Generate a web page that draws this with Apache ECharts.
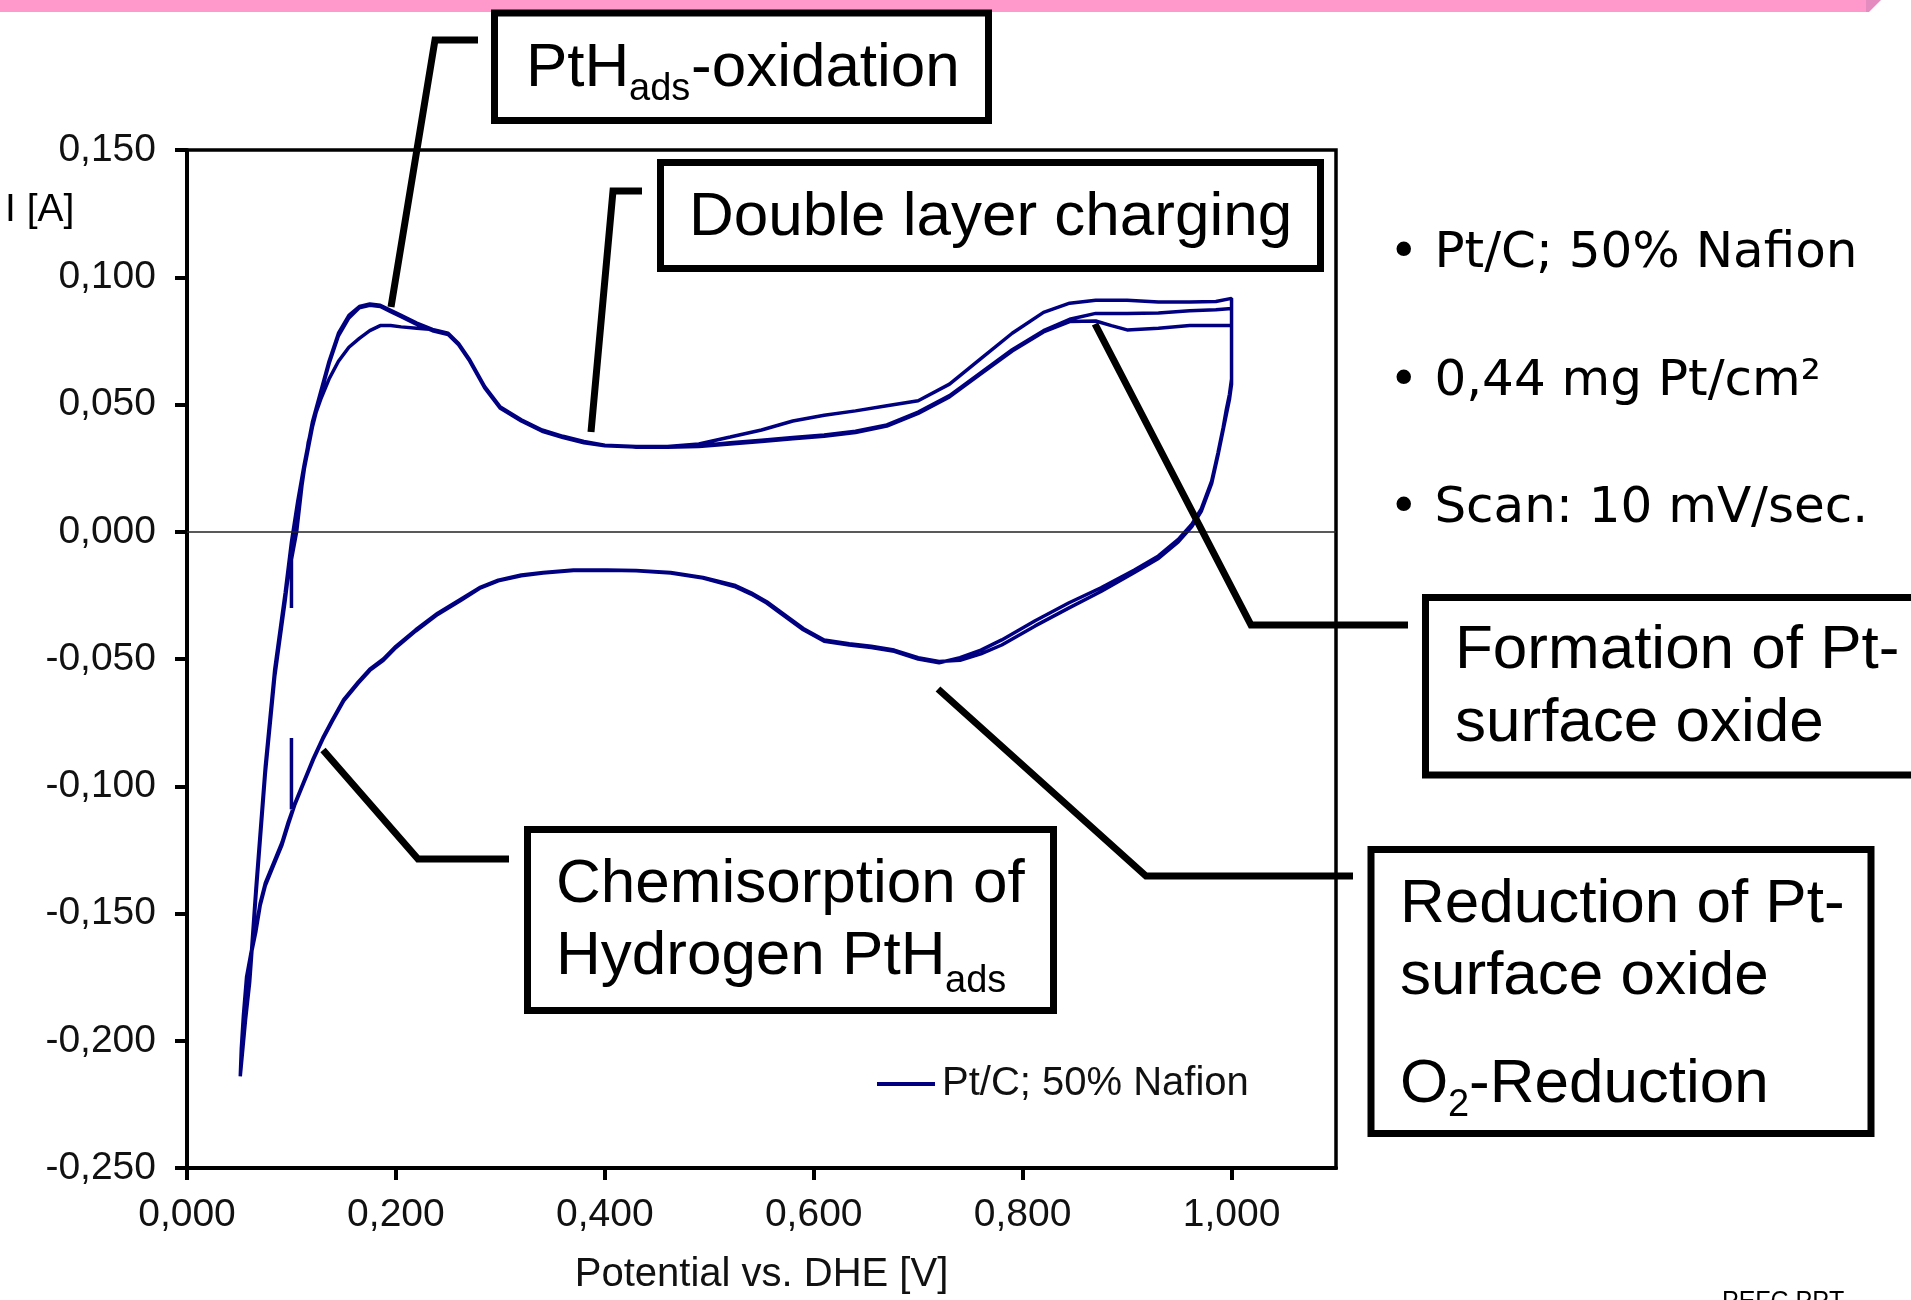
<!DOCTYPE html>
<html>
<head>
<meta charset="utf-8">
<title>Cyclic voltammogram Pt/C</title>
<script src="https://cdn.jsdelivr.net/npm/echarts@6/dist/echarts.min.js"></script>
<style>
  html, body { margin: 0; padding: 0; background: #fff; }
  #cv { width: 1911px; height: 1300px; }
</style>
</head>
<body>
<div id="cv"></div>
<script>
// tick values
var xTicks = [0, 0.2, 0.4, 0.6, 0.8, 1.0];

// first anodic sweep (starts at 0,1 V)
var anodicInnerV = [0.100, 0.100, 0.105, 0.110, 0.116, 0.122, 0.128, 0.136, 0.145, 0.155,
  0.165, 0.175, 0.185, 0.195, 0.205, 0.220, 0.235, 0.250, 0.260, 0.270,
  0.285, 0.300, 0.320, 0.340, 0.360, 0.380, 0.400, 0.430, 0.460, 0.490,
  0.520, 0.550, 0.580, 0.610, 0.640, 0.670, 0.700, 0.730, 0.760, 0.790,
  0.820, 0.845, 0.870, 0.885, 0.900, 0.930, 0.960, 0.985, 1.000];
var anodicInner = [-0.030, -0.011, 0.000, 0.018, 0.035, 0.045, 0.052, 0.060, 0.067, 0.0725,
  0.076, 0.079, 0.081, 0.081, 0.0805, 0.080, 0.0795, 0.0775, 0.0735, 0.0675,
  0.0565, 0.0485, 0.0435, 0.0395, 0.037, 0.035, 0.034, 0.0332, 0.0332, 0.0335,
  0.0345, 0.0355, 0.0365, 0.0375, 0.039, 0.0415, 0.0465, 0.053, 0.062, 0.071,
  0.0785, 0.0826, 0.0828, 0.081, 0.0793, 0.080, 0.081, 0.081, 0.081];

// later anodic sweeps (from 0,05 V)
var anodicV = [0.051, 0.056, 0.060, 0.066, 0.075, 0.084, 0.094, 0.100, 0.106, 0.112,
  0.120, 0.128, 0.136, 0.145, 0.155, 0.165, 0.175, 0.185, 0.195, 0.205,
  0.220, 0.235, 0.250, 0.260, 0.270, 0.285, 0.300, 0.320, 0.340, 0.360,
  0.380, 0.400, 0.430, 0.460, 0.490, 0.520, 0.550, 0.580, 0.610, 0.640,
  0.670, 0.700, 0.730, 0.760, 0.790, 0.820, 0.845, 0.870, 0.900, 0.930,
  0.960, 0.985, 1.000];
var anodicOuter = [-0.214, -0.190, -0.175, -0.140, -0.092, -0.054, -0.024, -0.004, 0.012, 0.026,
  0.043, 0.055, 0.067, 0.078, 0.085, 0.0885, 0.0895, 0.089, 0.087, 0.085,
  0.082, 0.0795, 0.078, 0.074, 0.068, 0.057, 0.049, 0.044, 0.040, 0.0375,
  0.0355, 0.034, 0.0335, 0.0335, 0.0345, 0.0372, 0.040, 0.0435, 0.0458, 0.0475,
  0.0495, 0.0515, 0.058, 0.068, 0.078, 0.0862, 0.0898, 0.091, 0.091, 0.0903,
  0.0903, 0.0905, 0.0917];
var anodicMiddle = [-0.214, -0.192, -0.177, -0.143, -0.095, -0.057, -0.027, -0.007, 0.010, 0.024,
  0.041, 0.054, 0.066, 0.077, 0.084, 0.088, 0.089, 0.0885, 0.0865, 0.0845,
  0.0815, 0.079, 0.0775, 0.0735, 0.0675, 0.0565, 0.0485, 0.0435, 0.0395, 0.037,
  0.035, 0.0338, 0.0333, 0.0333, 0.0338, 0.035, 0.036, 0.037, 0.038, 0.0395,
  0.042, 0.047, 0.0535, 0.0625, 0.0715, 0.079, 0.0835, 0.0858, 0.0858, 0.086,
  0.0868, 0.0872, 0.0877];

// cathodic sweeps (1,0 V -> 0,05 V)
var cathodicV = [1.000, 0.998, 0.995, 0.992, 0.987, 0.981, 0.971, 0.962, 0.949, 0.930,
  0.907, 0.875, 0.844, 0.812, 0.780, 0.760, 0.740, 0.720, 0.700, 0.677,
  0.655, 0.634, 0.610, 0.590, 0.570, 0.555, 0.540, 0.524, 0.494, 0.463,
  0.430, 0.402, 0.370, 0.341, 0.320, 0.298, 0.280, 0.262, 0.240, 0.219,
  0.200, 0.188, 0.175, 0.164, 0.150, 0.139, 0.130, 0.121, 0.112, 0.103,
  0.097, 0.091, 0.083, 0.075, 0.070, 0.066, 0.061, 0.057, 0.054, 0.052,
  0.051];
var cathodicA = [0.058, 0.052, 0.046, 0.040, 0.030, 0.019, 0.008, 0.002, -0.004, -0.0105,
  -0.016, -0.0235, -0.030, -0.037, -0.0445, -0.048, -0.0505, -0.051, -0.0495, -0.0465,
  -0.045, -0.044, -0.0425, -0.038, -0.032, -0.0275, -0.024, -0.021, -0.018, -0.016,
  -0.0152, -0.015, -0.015, -0.016, -0.017, -0.019, -0.022, -0.0265, -0.032, -0.0385,
  -0.045, -0.050, -0.054, -0.059, -0.066, -0.074, -0.081, -0.089, -0.098, -0.107,
  -0.114, -0.122, -0.130, -0.138, -0.146, -0.156, -0.166, -0.175, -0.190, -0.203,
  -0.214];
var cathodicB = [0.060, 0.054, 0.048, 0.041, 0.031, 0.020, 0.009, 0.003, -0.003, -0.0095,
  -0.015, -0.022, -0.028, -0.035, -0.0425, -0.0465, -0.0495, -0.0515, -0.050, -0.047,
  -0.0455, -0.0445, -0.043, -0.0385, -0.0325, -0.028, -0.0245, -0.0215, -0.0182, -0.0162,
  -0.0153, -0.0151, -0.0152, -0.0162, -0.0173, -0.0193, -0.0223, -0.027, -0.0325, -0.039,
  -0.0455, -0.0505, -0.0545, -0.0595, -0.0665, -0.0745, -0.0815, -0.0895, -0.0985, -0.1075,
  -0.115, -0.123, -0.131, -0.139, -0.147, -0.157, -0.167, -0.177, -0.191, -0.204,
  -0.214];

// end of the record at 0,1 V
var endV = [0.100, 0.100];
var endI = [-0.109, -0.081];

function zip(v, c, upTo) {
  var out = [];
  var n = upTo == null ? v.length : upTo;
  for (var i = 0; i < n; i++) out.push([v[i], c[i]]);
  return out;
}

var cvPoints = [].concat(
  zip(anodicInnerV, anodicInner),
  zip(cathodicV, cathodicA),
  zip(anodicV, anodicOuter),
  zip(cathodicV, cathodicB),
  zip(anodicV, anodicMiddle),
  zip(cathodicV, cathodicA, 50),
  zip(endV, endI)
);

var FONT = '"Liberation Sans", Arial, sans-serif';
var BULLET_FONT = '"DejaVu Sans", Verdana, sans-serif';

function fmt(v) {
  return v.toFixed(3).replace('.', ',');
}

function txt(x, y, s, size, family) {
  return {
    type: 'text', x: x, y: y, z: 110,
    style: {
      text: s, fontSize: size, fontFamily: family || FONT,
      fill: '#000', align: 'left', verticalAlign: 'middle'
    }
  };
}

function box(x, y, w, h) {
  return {
    type: 'rect', z: 100,
    shape: { x: x, y: y, width: w, height: h },
    style: { fill: '#fff', stroke: '#000', lineWidth: 7 }
  };
}

function leader(points) {
  return {
    type: 'polyline', z: 105,
    shape: { points: points },
    style: { stroke: '#000', lineWidth: 7, fill: null, lineJoin: 'miter', lineCap: 'butt' }
  };
}

var myChart = echarts.init(document.getElementById('cv'));

var option = {
  animation: false,
  backgroundColor: '#fff',
  grid: {
    left: 187, right: 575, top: 150, bottom: 127,
    show: true, borderColor: '#000', borderWidth: 3.5
  },
  legend: {
    left: 877, top: 1064, padding: 0,
    icon: 'rect', itemWidth: 58, itemHeight: 4,
    data: ['Pt/C; 50% Nafion'],
    textStyle: { fontFamily: FONT, fontSize: 40, color: '#111', padding: [0, 0, 0, 2] }
  },
  xAxis: {
    type: 'value', min: 0, max: 1.1,
    name: 'Potential vs. DHE [V]', nameLocation: 'middle', nameGap: 87,
    nameTextStyle: { fontFamily: FONT, fontSize: 40, color: '#111' },
    axisLine: { onZero: false, lineStyle: { color: '#000', width: 4 } },
    axisTick: { show: true, length: 12, customValues: xTicks, lineStyle: { color: '#000', width: 4 } },
    axisLabel: {
      customValues: xTicks, margin: 28,
      fontFamily: FONT, fontSize: 39, color: '#111',
      formatter: fmt
    },
    splitLine: { show: false }
  },
  yAxis: {
    type: 'value', min: -0.25, max: 0.15, interval: 0.05,
    axisLine: { show: true, lineStyle: { color: '#000', width: 4 } },
    axisTick: { show: true, length: 12, lineStyle: { color: '#000', width: 4 } },
    axisLabel: {
      margin: 31, fontFamily: FONT, fontSize: 39, color: '#111',
      formatter: fmt
    },
    splitLine: { show: false }
  },
  series: [{
    name: 'Pt/C; 50% Nafion',
    type: 'line',
    data: cvPoints,
    showSymbol: false,
    symbol: 'none',
    smooth: false,
    lineStyle: { color: '#000080', width: 3.5 },
    itemStyle: { color: '#000080' },
    markLine: {
      silent: true, symbol: 'none',
      label: { show: false },
      lineStyle: { color: '#222', width: 1.5, type: 'solid' },
      data: [{ yAxis: 0 }]
    }
  }],
  graphic: [
    // pink title band
    { type: 'rect', z: 90, shape: { x: 0, y: 0, width: 1868, height: 12 }, style: { fill: '#FF99CC' } },
    { type: 'polygon', z: 91, shape: { points: [[1866, 0], [1881, 0], [1869, 12], [1866, 12]] }, style: { fill: '#E48CBF' } },

    txt(5, 210, 'I [A]', 39),

    // leader lines
    leader([[478, 40], [435, 40], [391, 307]]),
    leader([[642, 191], [613, 191], [591, 432]]),
    leader([[323, 750], [418, 859], [509, 859]]),
    leader([[1095, 324], [1251, 625], [1408, 625]]),
    leader([[938, 689], [1146, 876], [1353, 876]]),

    // PtH_ads-oxidation
    box(494.5, 13, 494, 107.5),
    txt(526, 68.5, 'PtH', 62),
    txt(629, 89.8, 'ads', 38),
    txt(691, 68.5, '-oxidation', 62),

    // Double layer charging
    box(660.5, 162.5, 660, 106),
    txt(689, 217.5, 'Double layer charging', 62),

    // Chemisorption of Hydrogen PtH_ads
    box(527.5, 829.5, 526, 181),
    txt(556, 884.5, 'Chemisorption of', 62),
    txt(556, 956.5, 'Hydrogen PtH', 62),
    txt(945, 981.8, 'ads', 38),

    // Formation of Pt-surface oxide
    box(1425.5, 597.5, 600, 177.5),
    txt(1455, 650.5, 'Formation of Pt-', 62),
    txt(1455, 723.5, 'surface oxide', 62),

    // Reduction of Pt-surface oxide / O2-Reduction
    box(1371, 849.5, 500, 284),
    txt(1400, 904.5, 'Reduction of Pt-', 62),
    txt(1400, 976.5, 'surface oxide', 62),
    txt(1400, 1084.5, 'O', 62),
    txt(1448, 1105.3, '2', 38),
    txt(1469, 1084.5, '-Reduction', 62),

    // bullet notes
    txt(1389, 254.5, '\u2022 Pt/C; 50% Nafion', 50, BULLET_FONT),
    txt(1389, 382, '\u2022 0,44 mg Pt/cm\u00b2', 50, BULLET_FONT),
    txt(1389, 509.5, '\u2022 Scan: 10 mV/sec.', 50, BULLET_FONT),

    {
      type: 'text', x: 1722, y: 1290, z: 110,
      style: { text: 'PEFC.PPT', fontSize: 25, fontFamily: FONT, fill: '#000', verticalAlign: 'top' }
    }
  ]
};

myChart.setOption(option);
</script>
</body>
</html>
